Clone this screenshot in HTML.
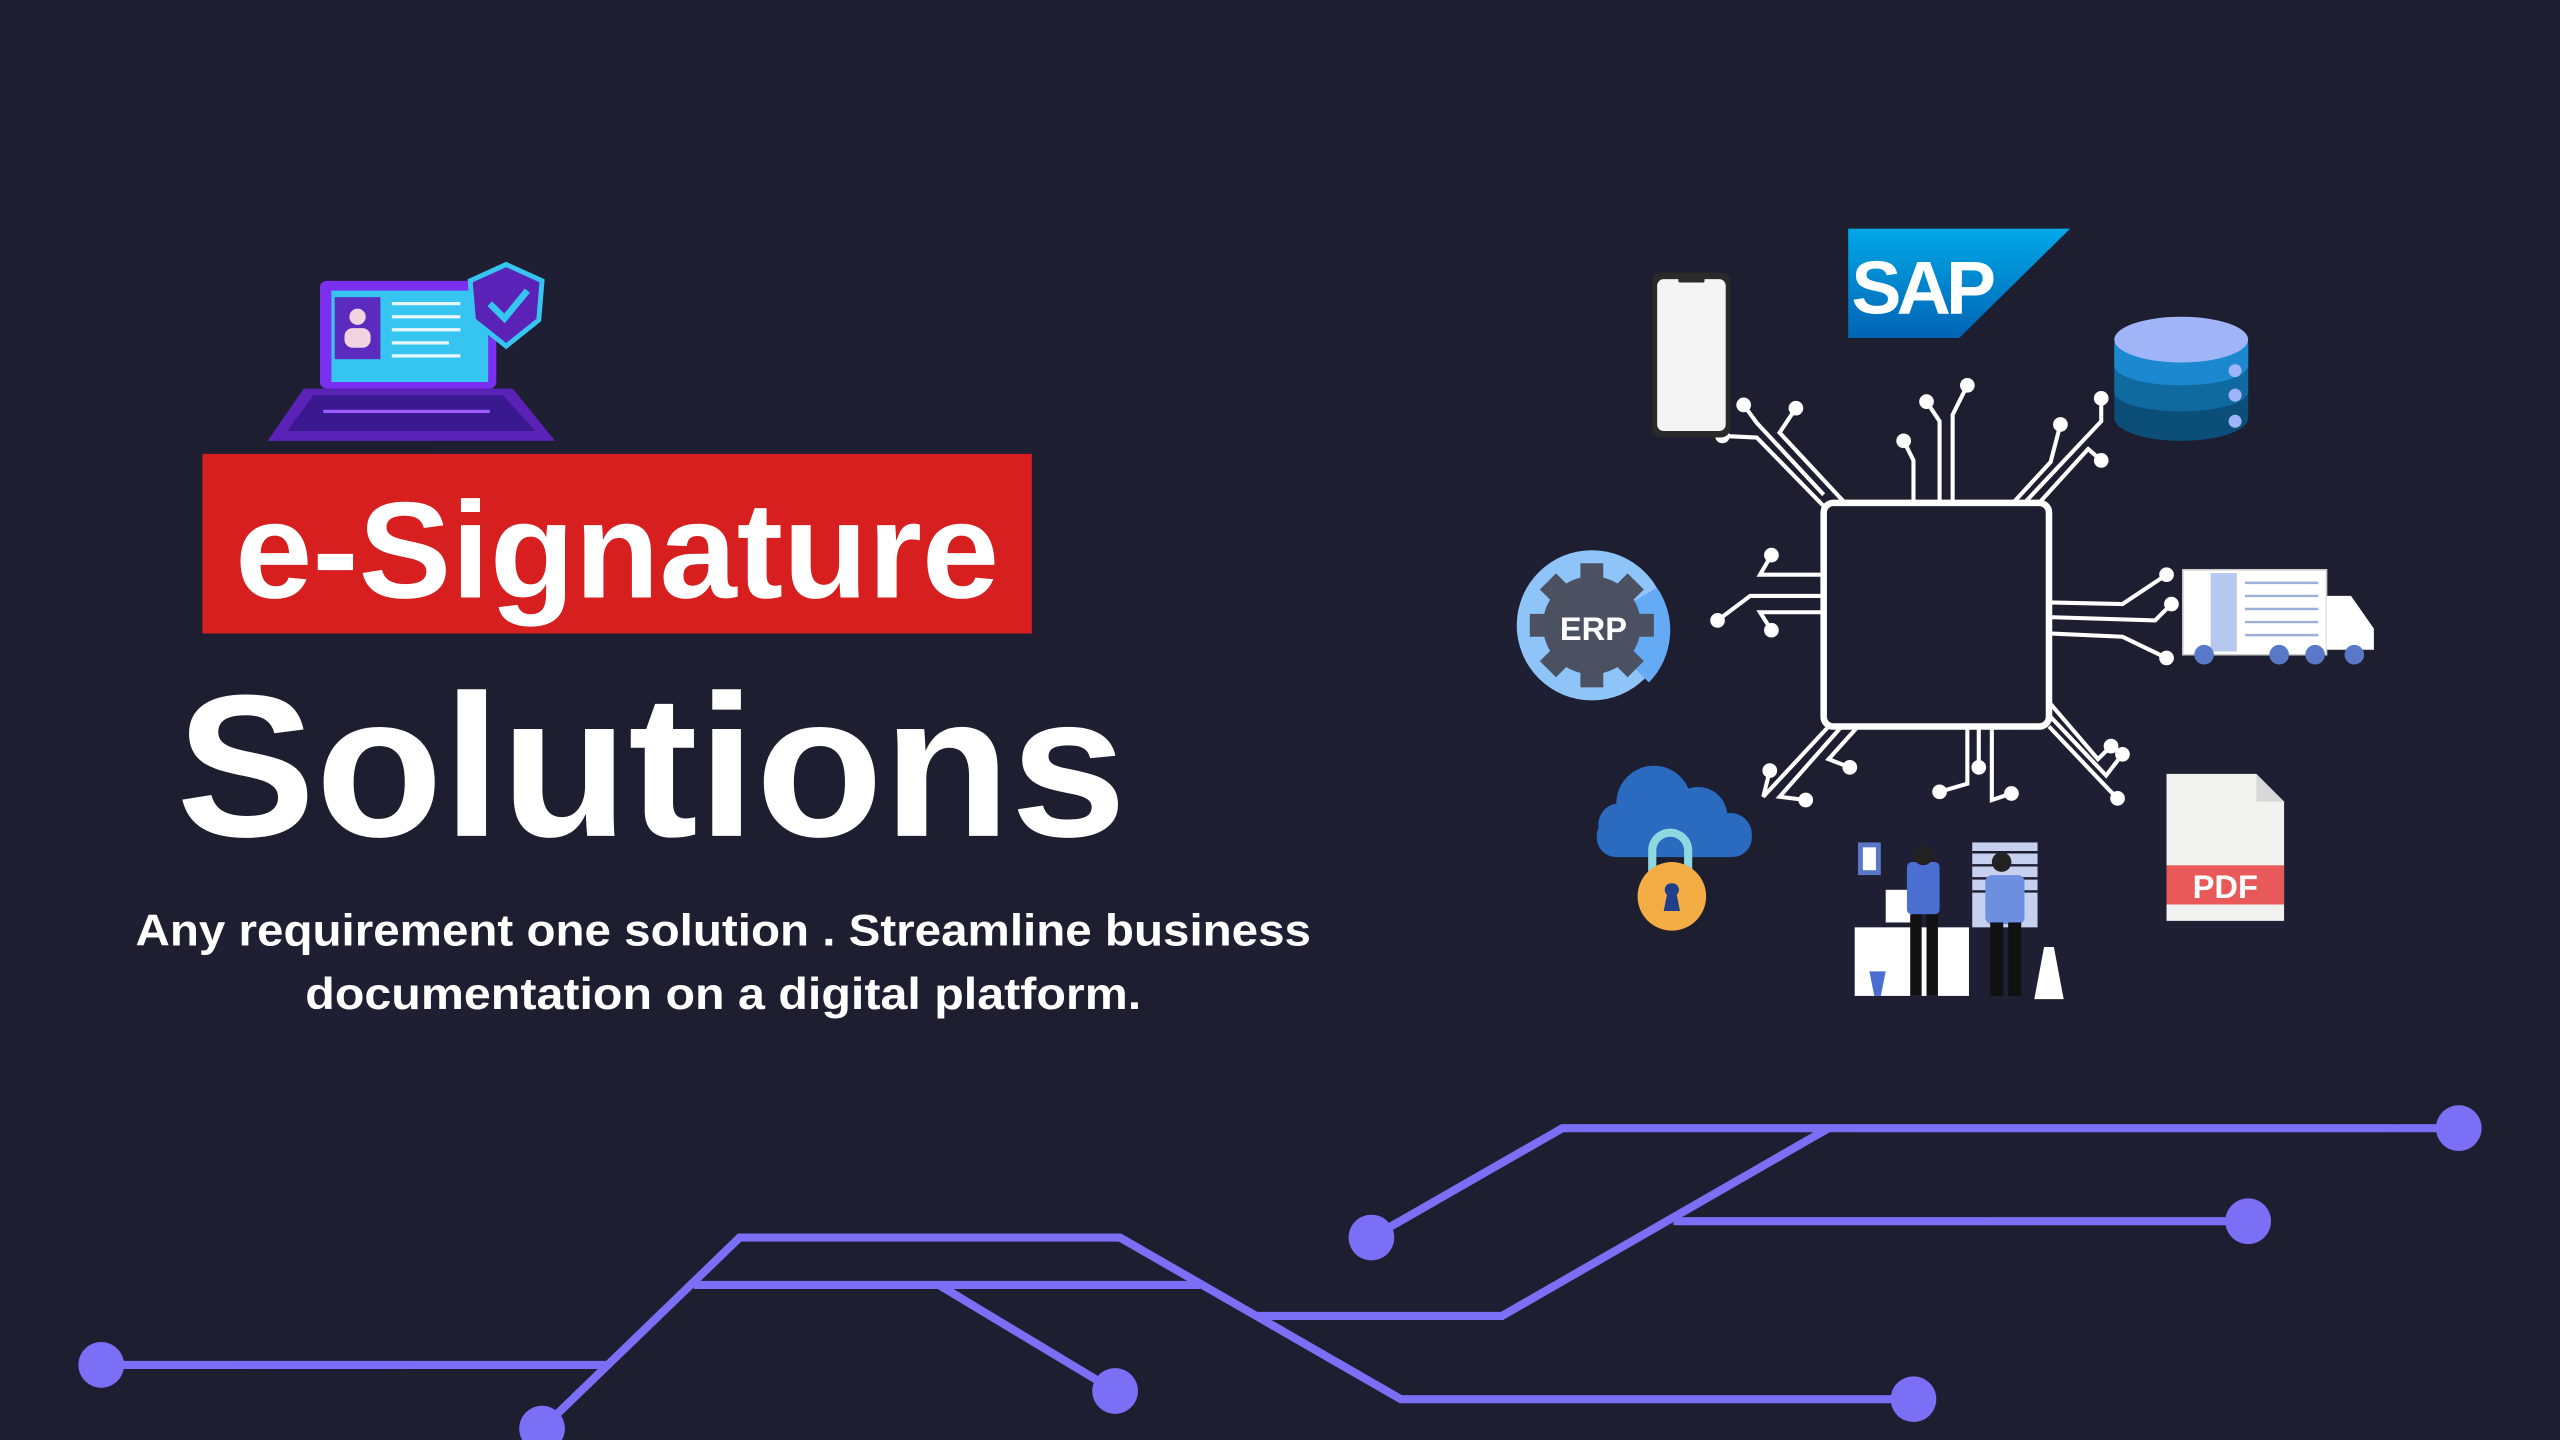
<!DOCTYPE html>
<html><head><meta charset="utf-8"><style>
html,body{margin:0;padding:0;background:#1e1e31;}
svg{display:block}
</style></head><body>
<svg width="2560" height="1440" viewBox="0 0 1568 882" xmlns="http://www.w3.org/2000/svg" font-family="Liberation Sans, sans-serif">
<rect width="1568" height="882" fill="#1e1e31"/>
<g fill="#232338" opacity="0.35">
<ellipse cx="450" cy="200" rx="220" ry="140"/>
<ellipse cx="800" cy="380" rx="160" ry="220"/>
<ellipse cx="1300" cy="600" rx="200" ry="160"/>
<ellipse cx="200" cy="700" rx="130" ry="150"/>
</g>

<g>
<rect x="196" y="172" width="108" height="66" rx="4" fill="#7b2ff0"/>
<rect x="203" y="178" width="96" height="56" fill="#36c5f0"/>
<rect x="205" y="182" width="28" height="38" fill="#5b2bc0"/>
<circle cx="219" cy="194" r="5" fill="#f2d4e0"/>
<rect x="211" y="201" width="16" height="12" rx="5" fill="#f2d4e0"/>
<g stroke="#e6f6ff" stroke-width="2"><line x1="240" y1="186" x2="282" y2="186"/><line x1="240" y1="194" x2="282" y2="194"/><line x1="240" y1="202" x2="282" y2="202"/><line x1="240" y1="210" x2="275" y2="210"/><line x1="240" y1="218" x2="282" y2="218"/></g>
<polygon points="186,238 314,238 340,270 164,270" fill="#5b22b8"/>
<polygon points="192,242 308,242 328,264 176,264" fill="#3a1890"/>
<line x1="198" y1="252" x2="300" y2="252" stroke="#9b5cff" stroke-width="2"/>
<polygon points="310,162 332,172 330,196 310,212 290,196 288,172" fill="#5b22b8" stroke="#36c5f0" stroke-width="3"/>
<polyline points="300,186 309,195 323,178" fill="none" stroke="#36c5f0" stroke-width="4"/>
</g>

<rect x="124" y="278" width="508" height="110" fill="#d71f1f"/>
<text x="144" y="366" textLength="468" lengthAdjust="spacingAndGlyphs" font-size="84" font-weight="bold" fill="#fff">e-Signature</text>
<text x="108" y="512" textLength="582" lengthAdjust="spacingAndGlyphs" font-size="124" font-weight="bold" fill="#fff">Solutions</text>
<text x="83" y="579" textLength="720" lengthAdjust="spacingAndGlyphs" font-size="27" font-weight="bold" fill="#fff">Any requirement one solution . Streamline business</text>
<text x="187" y="618" textLength="512" lengthAdjust="spacingAndGlyphs" font-size="27" font-weight="bold" fill="#fff">documentation on a digital platform.</text>

<g stroke="#7a6ff5" stroke-width="5" fill="none">
<polyline points="62,836 372,836"/>
<polyline points="332,875 453,758 686,758 858,857 1172,857"/>
<polyline points="425,787 735,787"/>
<polyline points="575,787 683,852"/>
<polyline points="770,806 920,806 1120,691"/>
<polyline points="840,758 957,691 1506,691"/>
<polyline points="1025,748 1377,748"/>
</g>
<g fill="#7a6ff5">
<circle cx="62" cy="836" r="14"/><circle cx="332" cy="875" r="14"/><circle cx="683" cy="852" r="14"/>
<circle cx="1172" cy="857" r="14"/><circle cx="840" cy="758" r="14"/><circle cx="1506" cy="691" r="14"/><circle cx="1377" cy="748" r="14"/>
</g>

<g stroke="#fff" stroke-width="2.5" fill="none">
<rect x="1117" y="308" width="138" height="137" rx="6" stroke-width="4"/>
<polyline points="1188,308 1188,258 1180,246"/>
<polyline points="1196,308 1196,254 1205,236"/>
<polyline points="1172,308 1172,282 1166,270"/>
<polyline points="1233,308 1256,283 1262,260"/>
<polyline points="1240,308 1287,258 1287,244"/>
<polyline points="1249,308 1279,275 1287,282"/>
<polyline points="1117,303 1076,259 1068,248"/>
<polyline points="1117,310 1076,268 1055,267"/>
<polyline points="1130,308 1090,265 1100,250"/>
<polyline points="1117,352 1078,352 1085,340"/>
<polyline points="1117,365 1072,365 1052,380"/>
<polyline points="1117,375 1078,375 1085,386"/>
<polyline points="1255,369 1300,370 1327,352"/>
<polyline points="1255,378 1320,380 1330,370"/>
<polyline points="1255,388 1300,390 1327,403"/>
<polyline points="1205,445 1205,480 1188,485"/>
<polyline points="1212,445 1212,470"/>
<polyline points="1220,445 1220,490 1232,486"/>
<polyline points="1120,445 1080,488 1084,472"/>
<polyline points="1128,445 1090,488 1106,490"/>
<polyline points="1138,445 1120,465 1133,470"/>
<polyline points="1255,430 1285,465 1293,457"/>
<polyline points="1255,438 1290,475 1300,462"/>
<polyline points="1255,445 1292,484 1297,489"/>
</g>
<g fill="#fff">
<circle cx="1180" cy="246" r="4.5"/><circle cx="1205" cy="236" r="4.5"/><circle cx="1166" cy="270" r="4.5"/>
<circle cx="1262" cy="260" r="4.5"/><circle cx="1287" cy="244" r="4.5"/><circle cx="1287" cy="282" r="4.5"/>
<circle cx="1068" cy="248" r="4.5"/><circle cx="1055" cy="267" r="4.5"/><circle cx="1100" cy="250" r="4.5"/>
<circle cx="1085" cy="340" r="4.5"/><circle cx="1052" cy="380" r="4.5"/><circle cx="1085" cy="386" r="4.5"/>
<circle cx="1327" cy="352" r="4.5"/><circle cx="1330" cy="370" r="4.5"/><circle cx="1327" cy="403" r="4.5"/>
<circle cx="1188" cy="485" r="4.5"/><circle cx="1212" cy="470" r="4.5"/><circle cx="1232" cy="486" r="4.5"/>
<circle cx="1084" cy="472" r="4.5"/><circle cx="1106" cy="490" r="4.5"/><circle cx="1133" cy="470" r="4.5"/>
<circle cx="1293" cy="457" r="4.5"/><circle cx="1300" cy="462" r="4.5"/><circle cx="1297" cy="489" r="4.5"/>
</g>

<rect x="1012" y="167" width="48" height="101" rx="6" fill="#2a2a2a"/>
<rect x="1015" y="171" width="42" height="93" rx="4" fill="#f4f4f4"/>
<rect x="1028" y="170" width="16" height="3" rx="1" fill="#2a2a2a"/>

<defs><linearGradient id="sap" x1="0" y1="0" x2="0" y2="1"><stop offset="0" stop-color="#00a8e8"/><stop offset="1" stop-color="#0064b4"/></linearGradient></defs>
<polygon points="1132,140 1268,140 1200,207 1132,207" fill="url(#sap)"/>
<text x="1134" y="192" font-size="46" font-weight="bold" fill="#fff" letter-spacing="-3">SAP</text>

<path d="M1295,210 v46 a41,14 0 0 0 82,0 v-46 z" fill="#0b4f78"/>
<path d="M1295,210 v30 a41,12 0 0 0 82,0 v-30 z" fill="#0f6aa0"/>
<path d="M1295,210 v14 a41,12 0 0 0 82,0 v-14 z" fill="#1b88cf"/>
<ellipse cx="1336" cy="208" rx="41" ry="14" fill="#a0b4f8"/>
<circle cx="1369" cy="227" r="4" fill="#a0b4f8"/><circle cx="1369" cy="242" r="4" fill="#a0b4f8"/><circle cx="1369" cy="258" r="4" fill="#a0b4f8"/>

<circle cx="975" cy="383" r="46" fill="#8ec4f8"/>
<path d="M975,383 L1010,418 A46,46 0 0 0 1015,360 Z" fill="#64aaf4"/>
<g fill="#4b5160">
<circle cx="975" cy="383" r="30"/>
<g transform="translate(975,383)">
<rect x="-7" y="-38" width="14" height="76"/><rect x="-38" y="-7" width="76" height="14"/>
<rect x="-7" y="-38" width="14" height="76" transform="rotate(45)"/><rect x="-7" y="-38" width="14" height="76" transform="rotate(-45)"/>
</g></g>
<text x="976" y="392" text-anchor="middle" font-size="20" font-weight="bold" fill="#fff">ERP</text>

<rect x="1337" y="349" width="88" height="52" fill="#fff" stroke="#ccc" stroke-width="1"/>
<rect x="1354" y="351" width="16" height="48" fill="#b4c8f0"/>
<g stroke="#9fb0d8" stroke-width="1.5"><line x1="1375" y1="357" x2="1420" y2="357"/><line x1="1375" y1="365" x2="1420" y2="365"/><line x1="1375" y1="373" x2="1420" y2="373"/><line x1="1375" y1="381" x2="1420" y2="381"/><line x1="1375" y1="389" x2="1420" y2="389"/></g>
<path d="M1425,365 h15 l14,20 v13 h-29 z" fill="#fff"/>
<g fill="#5a78c8"><circle cx="1350" cy="401" r="6"/><circle cx="1396" cy="401" r="6"/><circle cx="1418" cy="401" r="6"/><circle cx="1442" cy="401" r="6"/></g>

<g fill="#2a6bc0">
<circle cx="1013" cy="492" r="23"/><circle cx="1040" cy="500" r="18"/><circle cx="992" cy="505" r="13"/><circle cx="1060" cy="511" r="13"/>
<rect x="978" y="500" width="95" height="25" rx="12"/>
</g>
<path d="M1012,537 v-16 a11,11 0 0 1 22,0 v16" fill="none" stroke="#8fd8e0" stroke-width="5"/>
<circle cx="1024" cy="549" r="21" fill="#f4ad45"/>
<path d="M1024,541 a4,4 0 0 1 3,7 l2,10 h-10 l2,-10 a4,4 0 0 1 3,-7z" fill="#1f3f88"/>

<g>
<rect x="1138" y="516" width="14" height="20" fill="#5a78c8"/><rect x="1141" y="519" width="8" height="14" fill="#fff"/>
<rect x="1208" y="516" width="40" height="52" fill="#c8d0f0"/>
<g stroke="#1e1e31" stroke-width="1.5"><line x1="1208" y1="522" x2="1248" y2="522"/><line x1="1208" y1="530" x2="1248" y2="530"/><line x1="1208" y1="538" x2="1248" y2="538"/><line x1="1208" y1="546" x2="1248" y2="546"/></g>
<rect x="1136" y="568" width="70" height="42" fill="#fff"/>
<rect x="1155" y="545" width="16" height="20" fill="#fff"/>
<rect x="1168" y="528" width="20" height="32" rx="3" fill="#4a6fd0"/>
<circle cx="1178" cy="524" r="6" fill="#222"/>
<rect x="1170" y="560" width="7" height="50" fill="#111"/><rect x="1180" y="560" width="7" height="50" fill="#111"/>
<rect x="1216" y="536" width="24" height="30" rx="4" fill="#6e8fe0"/>
<circle cx="1226" cy="528" r="6" fill="#222"/>
<rect x="1219" y="565" width="8" height="45" fill="#111"/><rect x="1230" y="565" width="8" height="45" fill="#111"/>
<polygon points="1252,580 1258,580 1264,612 1246,612" fill="#fff"/>
<polygon points="1145,595 1155,595 1152,610 1148,610" fill="#4a6fd0"/>
</g>

<path d="M1327,474 h55 l17,17 v73 h-72 z" fill="#f2f2f0"/>
<path d="M1382,474 v17 h17 z" fill="#d8d8d8"/>
<rect x="1327" y="530" width="72" height="24" fill="#e85a5a"/>
<text x="1363" y="550" text-anchor="middle" font-size="20" font-weight="bold" fill="#fff">PDF</text>
</svg>
</body></html>
